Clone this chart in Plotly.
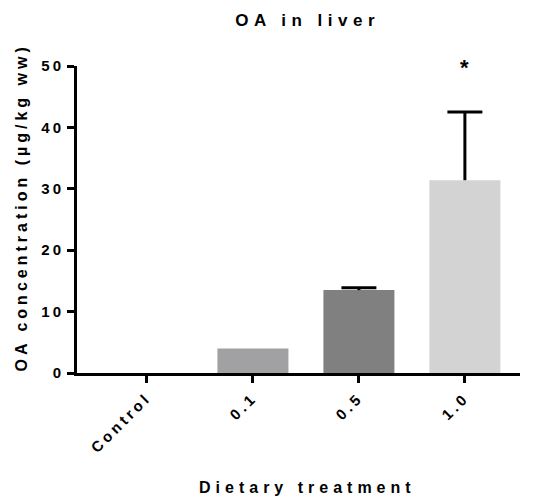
import plotly.graph_objects as go

categories = ["Control", "0.1", "0.5", "1.0"]
means = [0.0, 4.0, 13.5, 31.4]
errors_up = [0.0, 0.0, 0.4, 11.1]
bar_colors = ["#FFFFFF", "#A1A1A4", "#808080", "#D3D3D3"]
y_ticks = [0, 10, 20, 30, 40, 50]
sig_label = "*"
sig_index = 3
sig_y = 49.8

FONT = "Liberation Sans, Arial, sans-serif"


def spaced(text, px):
    return '<span style="letter-spacing:%gpx"><b>%s</b></span>' % (px, text)


xs = list(range(len(categories)))

fig = go.Figure()
fig.add_trace(go.Bar(
    x=xs, y=means,
    marker=dict(color=bar_colors, line=dict(width=0)),
    width=0.67, showlegend=False, hoverinfo="skip",
))

# one-sided (upper) error bars, built from the data arrays
cap = 0.165
ex, ey = [], []
for xi, m, e in zip(xs, means, errors_up):
    if e <= 0:
        continue
    ex += [xi, xi, None, xi - cap, xi + cap, None]
    ey += [m, m + e, None, m + e, m + e, None]
fig.add_trace(go.Scatter(x=ex, y=ey, mode="lines",
                         line=dict(color="black", width=3),
                         showlegend=False, hoverinfo="skip", cliponaxis=False))

fig.add_annotation(x=sig_index, y=sig_y, text="<b>" + sig_label + "</b>", showarrow=False,
                   font=dict(size=22, color="black", family=FONT), yanchor="middle")

# axis titles as annotations for precise placement
fig.add_annotation(xref="paper", yref="paper", x=0.52, y=-0.374, text=spaced("Dietary treatment", 5),
                   showarrow=False, xanchor="center", yanchor="middle",
                   font=dict(size=16, color="black", family=FONT))
fig.add_annotation(xref="paper", yref="paper", x=-0.126, y=0.54, text=spaced("OA concentration (µg/kg ww)", 4),
                   showarrow=False, xanchor="center", yanchor="middle", textangle=-90,
                   font=dict(size=16, color="black", family=FONT))

fig.update_layout(
    width=535, height=504,
    margin=dict(l=77, r=15, t=66, b=131),
    plot_bgcolor="white", paper_bgcolor="white",
    title=dict(text=spaced("OA in liver", 5.5), x=0.575, xanchor="center", y=0.96, yanchor="middle",
               font=dict(size=17, color="black", family=FONT)),
    font=dict(family=FONT, color="black"),
    xaxis=dict(
        tickmode="array", tickvals=xs,
        ticktext=[spaced(c, 3.5) for c in categories],
        range=[-0.66, 3.52], showline=True, linewidth=3, linecolor="black",
        ticks="outside", ticklen=7, tickwidth=3, tickcolor="black",
        tickangle=-45, tickfont=dict(size=15, family=FONT),
        showgrid=False, zeroline=False,
    ),
    yaxis=dict(
        range=[0, 50], tickvals=y_ticks, ticktext=[spaced(str(t), 3) for t in y_ticks],
        showline=True, linewidth=3, linecolor="black",
        ticks="outside", ticklen=7, tickwidth=3, tickcolor="black",
        tickfont=dict(size=15, family=FONT),
        showgrid=False, zeroline=False,
    ),
)

fig.write_html("out.html")
